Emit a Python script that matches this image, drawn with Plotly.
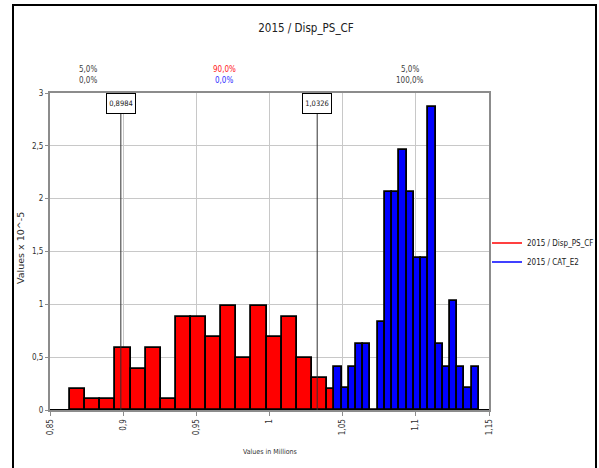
import plotly.graph_objects as go

# ---- data (values in millions, densities x 1e-5) ----
red_name = "2015 / Disp_PS_CF"
blue_name = "2015 / CAT_E2"
red_start = 0.8637
red_width = 0.01033
red_heights = [0.2, 0.1, 0.1, 0.59, 0.39, 0.59, 0.1, 0.88, 0.88, 0.69,
               0.98, 0.49, 0.98, 0.69, 0.88, 0.49, 0.3, 0.2]
blue_start = 1.0443
blue_width = 0.00494
blue_heights = [0.41, 0.21, 0.41, 0.62, 0.62, 0.0, 0.83, 2.06, 2.06, 2.46,
                2.06, 1.44, 1.44, 2.87, 0.62, 0.41, 1.03, 0.41, 0.21, 0.41]
x_min, x_max = 0.85, 1.15
markers = [0.8984, 1.0326]
marker_labels = ["0,8984", "1,0326"]
pct_x = [0.876, 0.969, 1.096]
pct_red = ["5,0%", "90,0%", "5,0%"]
pct_blue = ["0,0%", "0,0%", "100,0%"]
pct_colors_top = ["#404040", "#ff2020", "#404040"]
pct_colors_bot = ["#404040", "#3030ff", "#404040"]

FONT = "DejaVu Sans Condensed, Roboto, sans-serif"

red_x = [red_start + (i + 0.5) * red_width for i in range(len(red_heights))]
blue_x = [blue_start + (i + 0.5) * blue_width for i in range(len(blue_heights))]

# empty bins drawn as an outline along zero
zx, zy = [], []
zx += [x_min, red_start, None]
zy += [0, 0, None]
for i, h in enumerate(blue_heights):
    if h == 0:
        zx += [blue_start + i * blue_width, blue_start + (i + 1) * blue_width, None]
        zy += [0, 0, None]
blue_end = blue_start + len(blue_heights) * blue_width
zx += [blue_end, x_max]
zy += [0, 0]

fig = go.Figure()
fig.add_trace(go.Bar(x=red_x, y=red_heights, width=[red_width] * len(red_x),
                     marker=dict(color="#ff0000", line=dict(color="black", width=1.8)),
                     showlegend=False, hoverinfo="skip"))
fig.add_trace(go.Bar(x=blue_x, y=blue_heights, width=[blue_width] * len(blue_x),
                     marker=dict(color="#0000ff", line=dict(color="black", width=1.8)),
                     showlegend=False, hoverinfo="skip"))
fig.add_trace(go.Scatter(x=zx, y=zy, mode="lines", line=dict(color="black", width=2),
                         showlegend=False, hoverinfo="skip", cliponaxis=False))
fig.add_trace(go.Scatter(x=[None], y=[None], mode="lines", name=red_name,
                         line=dict(color="#ff0000", width=1.5)))
fig.add_trace(go.Scatter(x=[None], y=[None], mode="lines", name=blue_name,
                         line=dict(color="#0000ff", width=1.5)))

shapes = []
for m in markers:
    shapes.append(dict(type="line", xref="x", yref="paper", x0=m, x1=m, y0=0, y1=1,
                       line=dict(color="#303030", width=1), layer="above"))
# outer frame of the chart
shapes.append(dict(type="rect", xref="paper", yref="paper",
                   x0=(13 - 50) / 439, x1=(596 - 50) / 439,
                   y0=(410 - 472) / 317, y1=(410 - 5) / 317,
                   line=dict(color="black", width=2), fillcolor="rgba(0,0,0,0)"))

annotations = []
for m, lab in zip(markers, marker_labels):
    annotations.append(dict(x=m, y=(410 - 92.5) / 317, xref="x", yref="paper",
                            text=lab, showarrow=False, bgcolor="white",
                            bordercolor="black", borderwidth=1, borderpad=1,
                            width=26, height=17,
                            font=dict(size=7.5, color="#202020", family=FONT)))
for x, t1, t2, c1, c2 in zip(pct_x, pct_red, pct_blue, pct_colors_top, pct_colors_bot):
    annotations.append(dict(x=x, y=(410 - 63) / 317, xref="x", yref="paper", text=t1,
                            xanchor="center", showarrow=False,
                            font=dict(size=8, color=c1, family=FONT)))
    annotations.append(dict(x=x, y=(410 - 74.5) / 317, xref="x", yref="paper", text=t2,
                            xanchor="center", showarrow=False,
                            font=dict(size=8, color=c2, family=FONT)))
annotations.append(dict(x=0.5, y=(410 - 458) / 317, xref="paper", yref="paper",
                        xanchor="center", text="Values in Millions", showarrow=False,
                        font=dict(size=7, color="#303030", family=FONT)))
annotations.append(dict(x=(20 - 50) / 439, y=(410 - 248) / 317, xref="paper", yref="paper",
                        xanchor="center", yanchor="middle",
                        text="Values x 10^-5", showarrow=False, textangle=-90,
                        font=dict(size=9.5, color="#303030", family="DejaVu Sans, sans-serif")))

fig.update_layout(
    width=599, height=468,
    margin=dict(l=50, r=110, t=93, b=58, autoexpand=False),
    paper_bgcolor="white", plot_bgcolor="white",
    separators=", ",
    barmode="overlay", bargap=0,
    font=dict(family=FONT, size=8, color="#303030"),
    title=dict(text="2015 / Disp_PS_CF", x=306 / 599, xanchor="center",
               y=1 - 28 / 468, yanchor="middle",
               font=dict(size=11.5, color="#202020", family=FONT)),
    legend=dict(x=(487 - 50) / 439, y=(410 - 252.5) / 317, xanchor="left", yanchor="middle",
                bgcolor="rgba(0,0,0,0)", font=dict(size=8, color="#202020", family=FONT),
                itemwidth=30, tracegroupgap=0),
    shapes=shapes, annotations=annotations,
)
fig.update_xaxes(range=[x_min, x_max], dtick=0.05, tick0=0.85, tickangle=-90,
                 showgrid=True, gridcolor="#c8c8c8", gridwidth=1,
                 showline=True, linecolor="#8c8c8c", linewidth=2, mirror=True,
                 ticks="outside", ticklen=4, tickcolor="#8c8c8c", zeroline=False,
                 tickfont=dict(size=8, color="#303030", family=FONT))
fig.update_yaxes(range=[0, 3], dtick=0.5, showgrid=True, gridcolor="#c8c8c8", gridwidth=1,
                 showline=True, linecolor="#8c8c8c", linewidth=2, mirror=True,
                 ticks="outside", ticklen=3, tickcolor="#8c8c8c", zeroline=False,
                 tickfont=dict(size=8, color="#303030", family=FONT))

fig.write_html("out.html")
